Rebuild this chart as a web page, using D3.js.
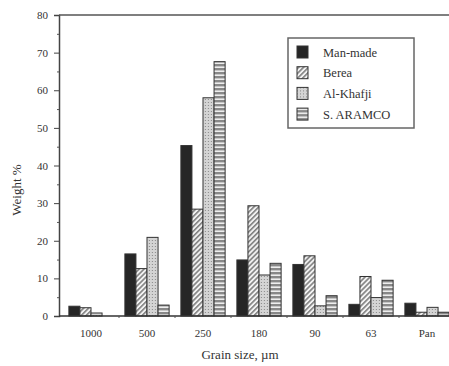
<!DOCTYPE html>
<html>
<head>
<meta charset="utf-8">
<script src="https://cdn.jsdelivr.net/npm/d3@7"></script>
<style>
  body { margin: 0; background: #fff; }
  svg { display: block; }
  text { font-family: "Liberation Serif", "Times New Roman", serif; fill: #333; }
</style>
</head>
<body>
<div id="chart"></div>
<script>
// data
var sizes = ["1000", "500", "250", "180", "90", "63", "Pan"];
var series = ["Man-made", "Berea", "Al-Khafji", "S. ARAMCO"];
var manMade  = [2.6, 16.5, 45.3, 14.9, 13.7, 3.1, 3.4];
var berea    = [2.2, 12.6, 28.4, 29.3, 16.0, 10.5, 1.0];
var alKhafji = [0.8, 20.9, 58.0, 10.9, 2.7, 4.9, 2.3];
var saramco  = [0.0, 2.9, 67.6, 14.0, 5.4, 9.5, 1.0];
var yTicks = [0, 10, 20, 30, 40, 50, 60, 70, 80];

var values = [manMade, berea, alKhafji, saramco];
var fills = ["#262626", "url(#pBerea)", "url(#pKhafji)", "url(#pAramco)"];

var width = 449, height = 366;
var svg = d3.select("#chart").append("svg")
  .attr("width", width)
  .attr("height", height);

// fill patterns
var defs = svg.append("defs");
var pb = defs.append("pattern").attr("id", "pBerea")
  .attr("patternUnits", "userSpaceOnUse").attr("width", 3.5).attr("height", 3.5)
  .attr("patternTransform", "rotate(-45)");
pb.append("rect").attr("width", 3.5).attr("height", 3.5).attr("fill", "#f2f2f2");
pb.append("rect").attr("width", 3.5).attr("height", 1.6).attr("fill", "#808080");

var pk = defs.append("pattern").attr("id", "pKhafji")
  .attr("patternUnits", "userSpaceOnUse").attr("width", 3).attr("height", 3);
pk.append("rect").attr("width", 3).attr("height", 3).attr("fill", "#d4d4d4");
pk.append("rect").attr("width", 1).attr("height", 1).attr("fill", "#888");

var pa = defs.append("pattern").attr("id", "pAramco")
  .attr("patternUnits", "userSpaceOnUse").attr("width", 4).attr("height", 4);
pa.append("rect").attr("width", 4).attr("height", 4).attr("fill", "#eee");
pa.append("rect").attr("width", 4).attr("height", 2.4).attr("fill", "#888");

// scales
var x0 = d3.scaleBand().domain(sizes).range([63, 455]).paddingInner(0.21).paddingOuter(0.105);
var x1 = d3.scaleBand().domain(series).range([0, x0.bandwidth()]);
var y = d3.scaleLinear().domain([0, 80]).range([316, 15]);

var axisX = 59;

// bars
var groups = svg.append("g").selectAll("g")
  .data(sizes)
  .join("g")
  .attr("transform", function(d) { return "translate(" + x0(d) + ",0)"; });

groups.selectAll("rect")
  .data(function(d, i) { return series.map(function(s, j) { return {s: s, v: values[j][i], j: j}; }); })
  .join("rect")
  .attr("x", function(d) { return x1(d.s); })
  .attr("y", function(d) { return y(d.v); })
  .attr("width", x1.bandwidth())
  .attr("height", function(d) { return y(0) - y(d.v); })
  .attr("fill", function(d) { return fills[d.j]; })
  .attr("stroke", "#333")
  .attr("stroke-width", 1);

// y axis
var yAxis = svg.append("g")
  .attr("transform", "translate(" + axisX + ",0)")
  .call(d3.axisLeft(y).tickValues(yTicks).tickSize(5).tickPadding(6));
yAxis.select(".domain").attr("stroke", "#444").attr("stroke-width", 1.5);
yAxis.selectAll(".tick line").attr("stroke", "#444");
yAxis.selectAll(".tick text").attr("font-size", 11).attr("font-family", "Liberation Serif").attr("fill", "#444");

// minor ticks
svg.append("g")
  .attr("transform", "translate(" + axisX + ",0)")
  .call(d3.axisLeft(y).tickValues(d3.range(5, 80, 10)).tickSize(2).tickFormat(""))
  .call(function(g) { g.select(".domain").remove(); })
  .selectAll("line").attr("stroke", "#555");

// top frame line
svg.append("line")
  .attr("x1", axisX).attr("x2", width)
  .attr("y1", y(80)).attr("y2", y(80))
  .attr("stroke", "#555").attr("stroke-width", 1.5);

// x axis
var xAxis = svg.append("g")
  .attr("transform", "translate(0," + y(0) + ")")
  .call(d3.axisBottom(x0).tickSize(0).tickPadding(13));
xAxis.select(".domain").remove();
xAxis.selectAll(".tick text").attr("font-size", 11).attr("font-family", "Liberation Serif").attr("fill", "#444");
svg.append("line")
  .attr("x1", axisX).attr("x2", width)
  .attr("y1", y(0)).attr("y2", y(0))
  .attr("stroke", "#333").attr("stroke-width", 1.5);

// small marks between groups
svg.append("g").selectAll("line")
  .data(sizes.slice(1))
  .join("line")
  .attr("x1", function(d) { return x0(d) - x0.step() * x0.paddingInner() / 2; })
  .attr("x2", function(d) { return x0(d) - x0.step() * x0.paddingInner() / 2; })
  .attr("y1", y(0)).attr("y2", y(0) + 2)
  .attr("stroke", "#555");

// axis titles
svg.append("text")
  .attr("x", 240).attr("y", 359)
  .attr("text-anchor", "middle")
  .attr("font-size", 13)
  .text("Grain size,  \u00b5m");

svg.append("text")
  .attr("transform", "translate(21,190) rotate(-90)")
  .attr("text-anchor", "middle")
  .attr("font-size", 13)
  .text("Weight %");

// legend
var legend = svg.append("g");
legend.append("rect")
  .attr("x", 288).attr("y", 38).attr("width", 126).attr("height", 90)
  .attr("fill", "#fff").attr("stroke", "#666").attr("stroke-width", 1.5);
var items = legend.selectAll("g.item")
  .data(series)
  .join("g")
  .attr("class", "item")
  .attr("transform", function(d, i) { return "translate(297," + (52 + i * 20.7) + ")"; });
items.append("rect")
  .attr("x", 0).attr("y", -6).attr("width", 11).attr("height", 12)
  .attr("fill", function(d, i) { return fills[i]; })
  .attr("stroke", "#333");
items.append("text")
  .attr("x", 26).attr("y", 4.5)
  .attr("font-size", 12.5)
  .text(function(d) { return d; });
</script>
</body>
</html>
